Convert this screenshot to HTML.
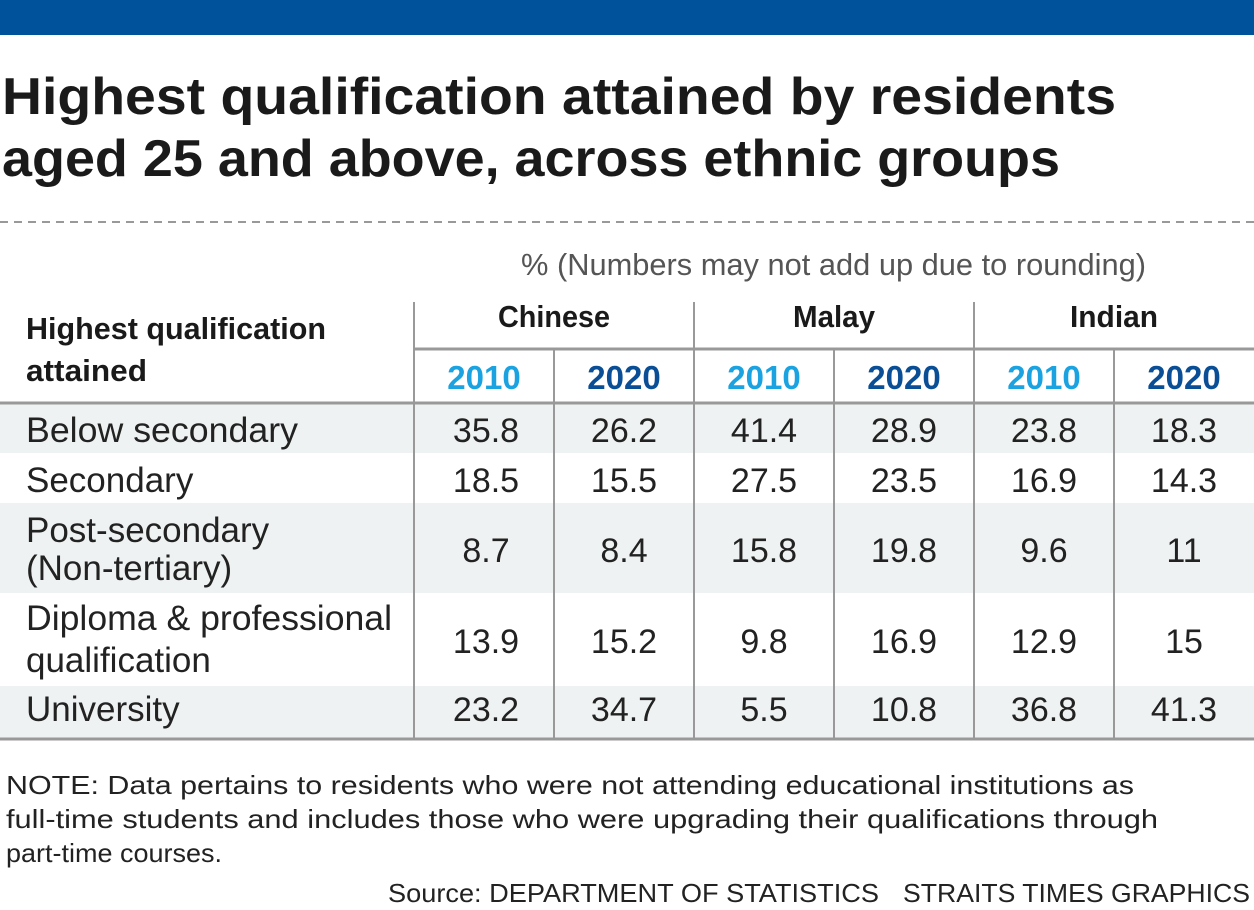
<!DOCTYPE html>
<html><head><meta charset="utf-8"><style>
html,body{margin:0;padding:0;background:#fff;}
svg{display:block;}
.t{font-family:"Liberation Sans",sans-serif;font-weight:bold;fill:#1a1a1a;}
.c{font-family:"Liberation Sans Narrow","Liberation Sans",sans-serif;}
.b{font-family:"Liberation Sans",sans-serif;fill:#222;font-size:35px;}
.n{font-family:"Liberation Sans",sans-serif;fill:#222;font-size:34px;text-anchor:middle;}
</style></head><body>
<svg width="1254" height="910" viewBox="0 0 1254 910">
<rect x="0" y="0" width="1254" height="35" fill="#00529b"/>
<text class="t" x="2" y="114" font-size="52" textLength="1114" lengthAdjust="spacingAndGlyphs">Highest qualification attained by residents</text>
<text class="t" x="2" y="176" font-size="52" textLength="1058" lengthAdjust="spacingAndGlyphs">aged 25 and above, across ethnic groups</text>
<line x1="0" y1="222" x2="1254" y2="222" stroke="#999" stroke-width="2" stroke-dasharray="8,6"/>
<text class="c" x="521" y="275" font-size="31" fill="#555" textLength="625" lengthAdjust="spacingAndGlyphs">% (Numbers may not add up due to rounding)</text>
<rect x="0" y="404" width="1254" height="49" fill="#eff2f2"/>
<rect x="0" y="503" width="1254" height="90" fill="#eff2f2"/>
<rect x="0" y="686" width="1254" height="52" fill="#eff2f2"/>
<g class="c" font-weight="bold" font-size="31" fill="#1a1a1a">
<text x="26" y="339" textLength="300" lengthAdjust="spacingAndGlyphs">Highest qualification</text>
<text x="26" y="381" textLength="121" lengthAdjust="spacingAndGlyphs">attained</text>
<text x="554" y="327" text-anchor="middle" textLength="112" lengthAdjust="spacingAndGlyphs">Chinese</text>
<text x="834" y="327" text-anchor="middle" textLength="82" lengthAdjust="spacingAndGlyphs">Malay</text>
<text x="1114" y="327" text-anchor="middle" textLength="88" lengthAdjust="spacingAndGlyphs">Indian</text>
</g>
<g class="c" font-weight="bold" font-size="33" text-anchor="middle">
<text x="484" y="389" fill="#1aa3e0">2010</text><text x="624" y="389" fill="#0a4f96">2020</text>
<text x="764" y="389" fill="#1aa3e0">2010</text><text x="904" y="389" fill="#0a4f96">2020</text>
<text x="1044" y="389" fill="#1aa3e0">2010</text><text x="1184" y="389" fill="#0a4f96">2020</text>
</g>
<g stroke="#999" stroke-width="2">
<line x1="414" y1="302" x2="414" y2="738"/>
<line x1="694" y1="302" x2="694" y2="738"/>
<line x1="974" y1="302" x2="974" y2="738"/>
<line x1="554" y1="349" x2="554" y2="738"/>
<line x1="834" y1="349" x2="834" y2="738"/>
<line x1="1114" y1="349" x2="1114" y2="738"/>
</g>
<line x1="414" y1="349" x2="1254" y2="349" stroke="#999" stroke-width="3"/>
<line x1="0" y1="403" x2="1254" y2="403" stroke="#999" stroke-width="3"/>
<line x1="0" y1="739" x2="1254" y2="739" stroke="#999" stroke-width="3"/>
<text class="b" x="26" y="442" textLength="272" lengthAdjust="spacingAndGlyphs">Below secondary</text>
<text class="b" x="26" y="492">Secondary</text>
<text class="b" x="26" y="542">Post-secondary</text>
<text class="b" x="26" y="580">(Non-tertiary)</text>
<text class="b" x="26" y="630" textLength="366" lengthAdjust="spacingAndGlyphs">Diploma &amp; professional</text>
<text class="b" x="26" y="672">qualification</text>
<text class="b" x="26" y="721">University</text>
<g class="n">
<text x="486" y="442">35.8</text><text x="624" y="442">26.2</text><text x="764" y="442">41.4</text><text x="904" y="442">28.9</text><text x="1044" y="442">23.8</text><text x="1184" y="442">18.3</text>
<text x="486" y="492">18.5</text><text x="624" y="492">15.5</text><text x="764" y="492">27.5</text><text x="904" y="492">23.5</text><text x="1044" y="492">16.9</text><text x="1184" y="492">14.3</text>
<text x="486" y="562">8.7</text><text x="624" y="562">8.4</text><text x="764" y="562">15.8</text><text x="904" y="562">19.8</text><text x="1044" y="562">9.6</text><text x="1184" y="562">11</text>
<text x="486" y="653">13.9</text><text x="624" y="653">15.2</text><text x="764" y="653">9.8</text><text x="904" y="653">16.9</text><text x="1044" y="653">12.9</text><text x="1184" y="653">15</text>
<text x="486" y="721">23.2</text><text x="624" y="721">34.7</text><text x="764" y="721">5.5</text><text x="904" y="721">10.8</text><text x="1044" y="721">36.8</text><text x="1184" y="721">41.3</text>
</g>
<g font-family="Liberation Sans, sans-serif" font-size="26" fill="#222">
<text x="6" y="794" textLength="1128" lengthAdjust="spacingAndGlyphs">NOTE: Data pertains to residents who were not attending educational institutions as</text>
<text x="6" y="828" textLength="1152" lengthAdjust="spacingAndGlyphs">full-time students and includes those who were upgrading their qualifications through</text>
<text x="6" y="862" textLength="216" lengthAdjust="spacingAndGlyphs">part-time courses.</text>
<text x="388" y="902" textLength="491" lengthAdjust="spacingAndGlyphs">Source: DEPARTMENT OF STATISTICS</text>
<text x="903" y="902" textLength="347" lengthAdjust="spacingAndGlyphs">STRAITS TIMES GRAPHICS</text>
</g>
</svg>
</body></html>
